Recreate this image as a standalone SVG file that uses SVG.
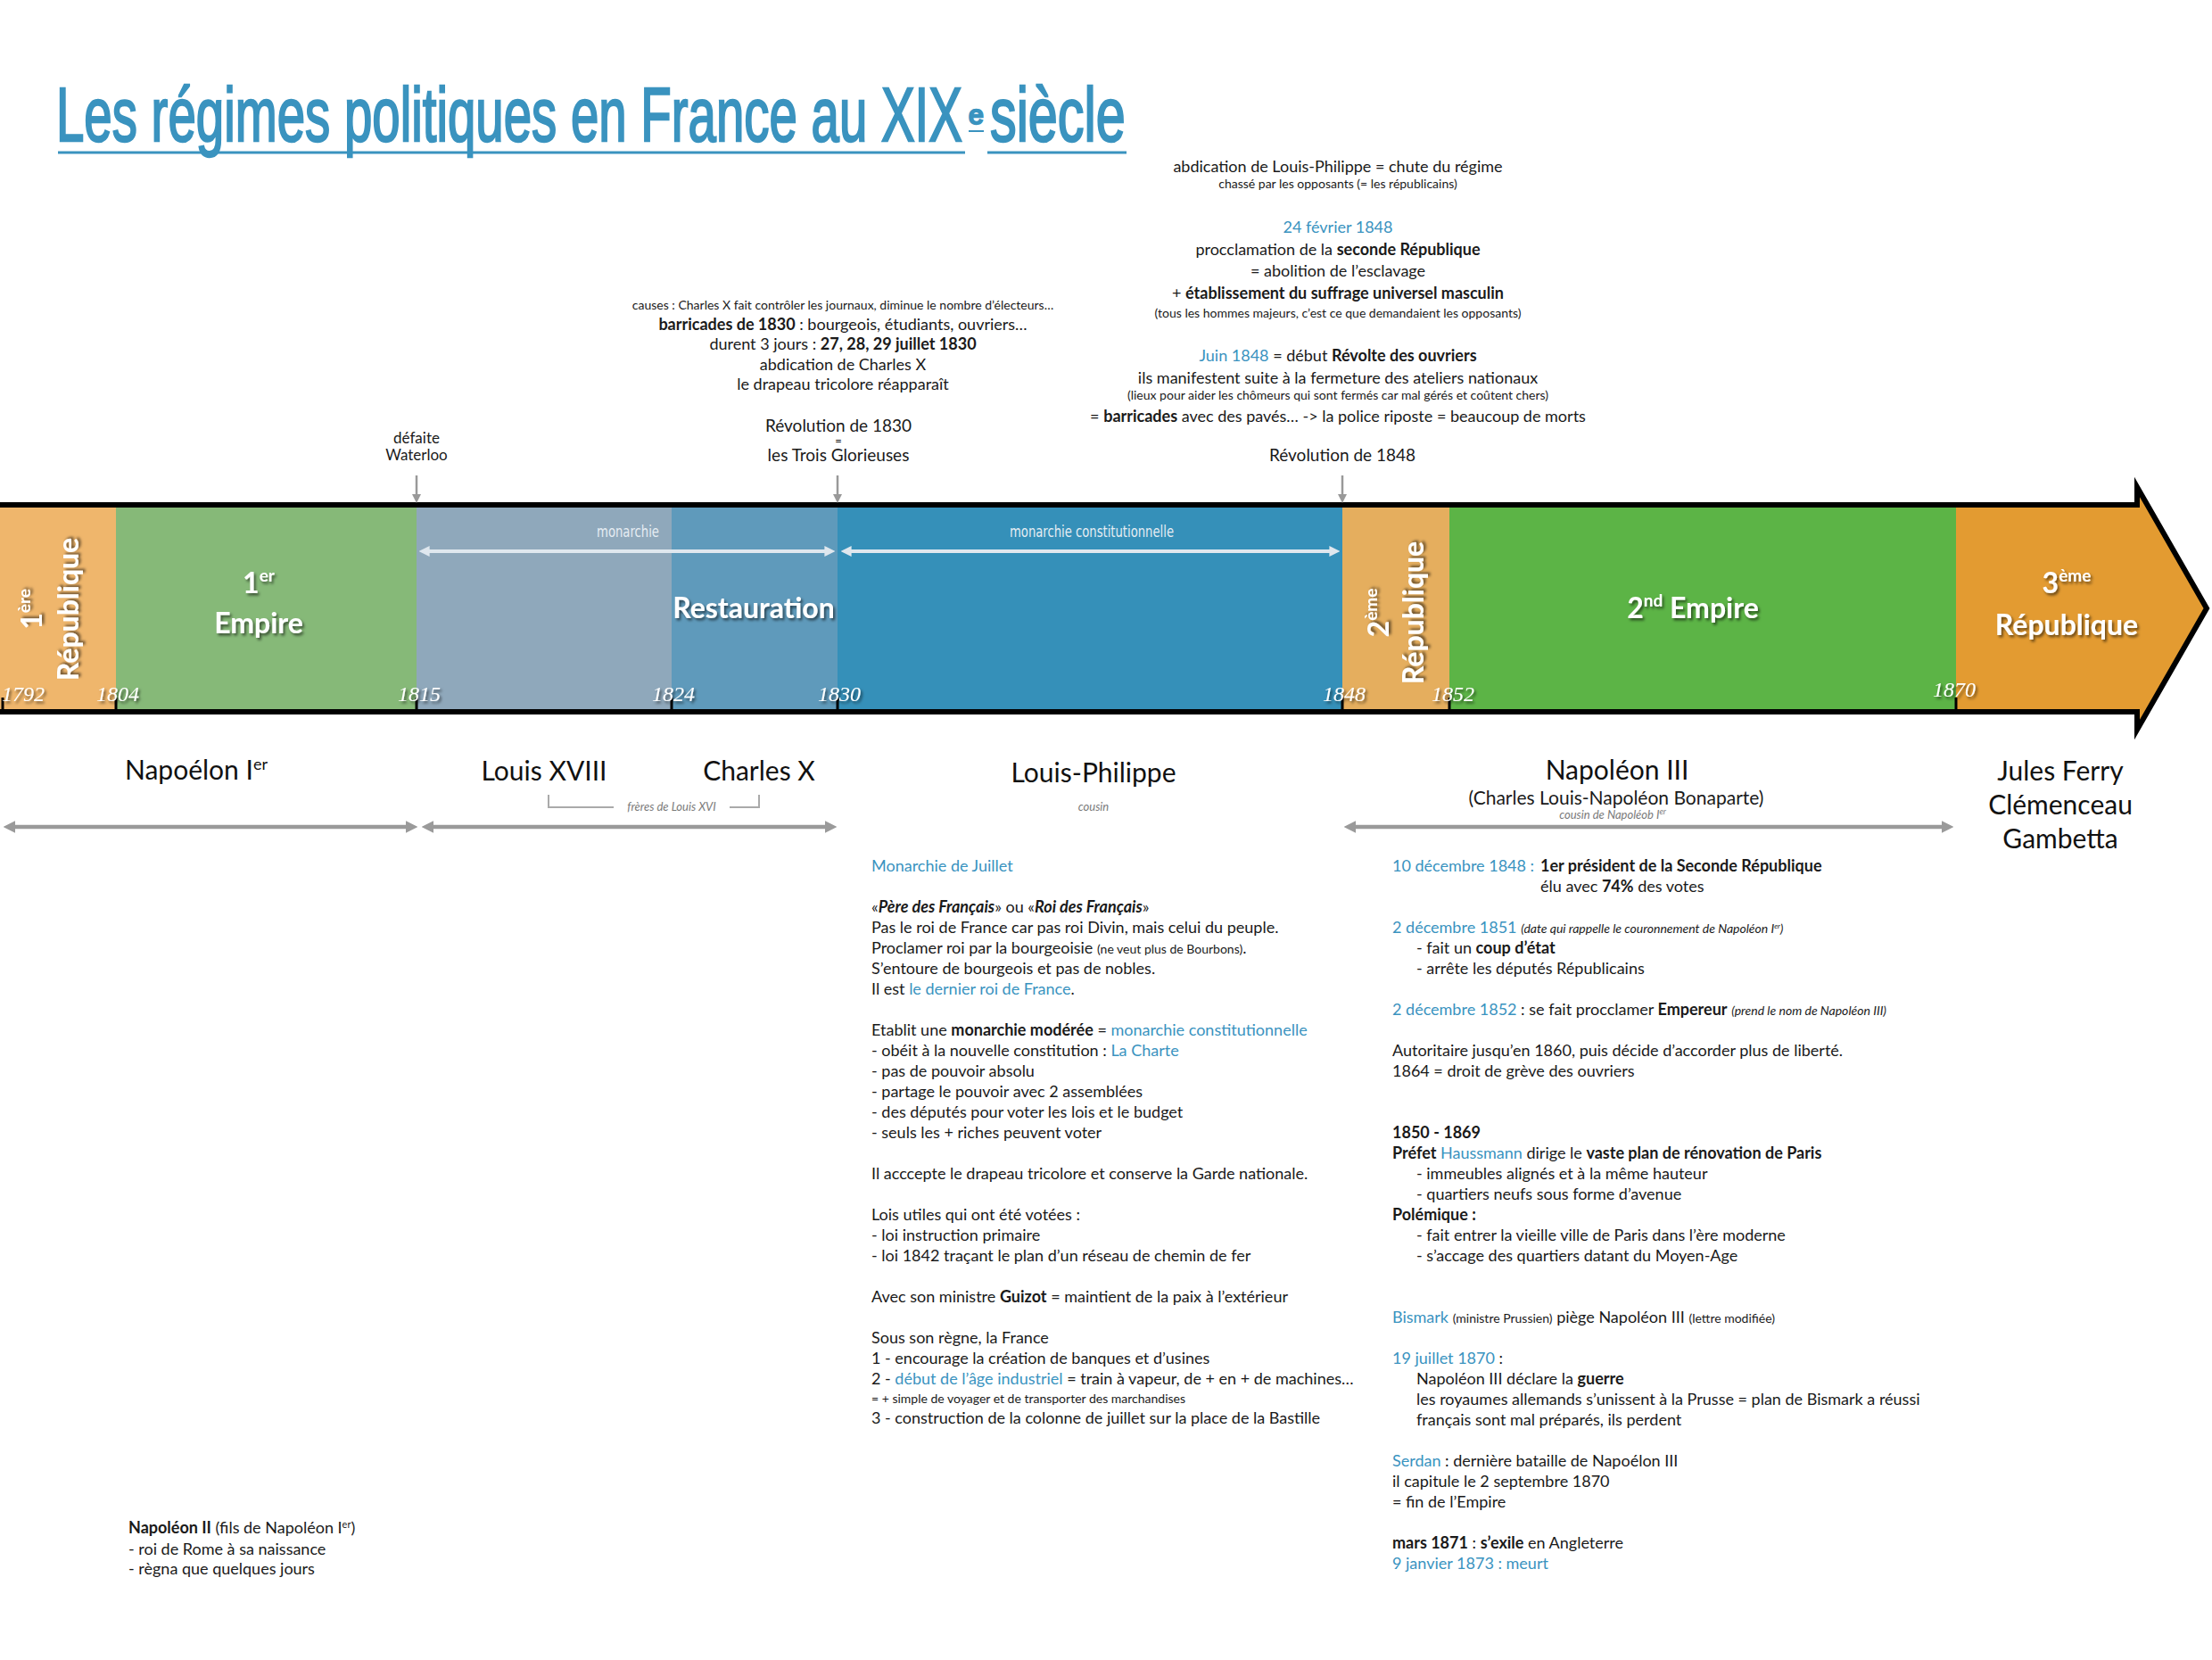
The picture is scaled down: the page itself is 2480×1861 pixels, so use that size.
<svg xmlns="http://www.w3.org/2000/svg" width="2480" height="1861" viewBox="0 0 2480 1861">
<defs>
<style>
.t{font-family:Lato,"Open Sans","Liberation Sans",sans-serif;fill:#1a1a1a}
.b{font-weight:700}
.i{font-style:italic}
.bl{fill:#3a93bf}
.g{fill:#7a7a7a}
.s13{font-size:14px}
.s17{font-size:18px}
.ttl{font-family:"Liberation Sans",Arial,sans-serif;fill:#3a93bf;stroke:#3a93bf;stroke-width:2.4}
.band{font-family:Lato,"Open Sans","Liberation Sans",sans-serif;font-weight:700;fill:#fff;filter:url(#sh)}
.yr{font-family:"Liberation Serif",serif;font-style:italic;font-size:24px;fill:#fff;filter:url(#sh)}
.cond{font-family:"Liberation Sans Narrow","DejaVu Sans Condensed","Liberation Sans",sans-serif;font-size:17px;fill:#e6edf3}
.name{font-family:Lato,"Open Sans","Liberation Sans",sans-serif;font-size:30px;fill:#111;text-anchor:middle}
.ga{fill:none;stroke:#9a9a9a;stroke-width:4.5}
.wa{fill:none;stroke:#dfe7ee;stroke-width:4}
.da{fill:none;stroke:#999;stroke-width:2.5}
</style>
<filter id="sh" x="-20%" y="-20%" width="140%" height="140%">
<feDropShadow dx="2" dy="2.5" stdDeviation="1.5" flood-color="#000" flood-opacity="0.55"/>
</filter>
<marker id="mg" viewBox="0 0 10 10" refX="3" refY="5" markerWidth="3" markerHeight="3" orient="auto-start-reverse"><path d="M0,0 L10,5 L0,10 z" fill="#9a9a9a"/></marker>
<marker id="mw" viewBox="0 0 10 10" refX="3" refY="5" markerWidth="3" markerHeight="3.4" orient="auto-start-reverse"><path d="M0,0 L10,5 L0,10 z" fill="#dfe7ee"/></marker>
<marker id="md" viewBox="0 0 10 10" refX="3" refY="5" markerWidth="4" markerHeight="4" orient="auto-start-reverse"><path d="M0,0 L10,5 L0,10 z" fill="#999"/></marker>
</defs>
<rect width="2480" height="1861" fill="#fff"/>

<g id="title">
<text class="ttl" font-size="86" transform="translate(63,158) scale(0.656,1)" x="0" y="0">Les régimes politiques en France au XIX</text>
<text class="ttl" font-size="30" stroke-width="0.5" x="1086" y="139">e</text>
<text class="ttl" font-size="86" transform="translate(1110,158) scale(0.69,1)" x="0" y="0">siècle</text>
<line x1="65" y1="171" x2="1082" y2="171" stroke="#3a93bf" stroke-width="3"/>
<line x1="1086" y1="147" x2="1103" y2="147" stroke="#3a93bf" stroke-width="2"/>
<line x1="1107" y1="171" x2="1263" y2="171" stroke="#3a93bf" stroke-width="3"/>
</g>

<g id="timeline">
<rect x="0" y="566" width="130" height="232" fill="#efb66c"/>
<rect x="130" y="566" width="337" height="232" fill="#86b978"/>
<rect x="467" y="566" width="286" height="232" fill="#8fa8bb"/>
<rect x="753" y="566" width="186" height="232" fill="#5f9abb"/>
<rect x="939" y="566" width="566" height="232" fill="#3590b9"/>
<rect x="1505" y="566" width="120" height="232" fill="#e5ae5e"/>
<rect x="1625" y="566" width="568" height="232" fill="#5cb446"/>
<polygon points="2193,566 2396,566 2396,546 2474,682 2396,818 2396,798 2193,798" fill="#e39b31"/>
<path d="M0,566 H2396 V546 L2474,682 L2396,818 V798 H0" fill="none" stroke="#000" stroke-width="6" stroke-linejoin="miter"/>
<g stroke="#000" stroke-width="3">
<line x1="3" y1="782" x2="3" y2="798"/><line x1="130" y1="782" x2="130" y2="798"/><line x1="467" y1="782" x2="467" y2="798"/><line x1="753" y1="782" x2="753" y2="798"/><line x1="939" y1="782" x2="939" y2="798"/><line x1="1505" y1="782" x2="1505" y2="798"/><line x1="1625" y1="782" x2="1625" y2="798"/><line x1="2193" y1="782" x2="2193" y2="798"/>
</g>
</g>

<g id="seg-rep1">
<text class="band" font-size="32" text-anchor="middle" transform="translate(47,683) rotate(-90)">1<tspan font-size="19" dy="-13">ère</tspan></text>
<text class="band" font-size="32" text-anchor="middle" transform="translate(88,683) rotate(-90)">République</text>
<text class="yr" x="2" y="786">1792</text>
</g>
<g id="seg-empire1">
<text class="band" font-size="32" text-anchor="middle" x="290" y="665">1<tspan font-size="19" dy="-13">er</tspan></text>
<text class="band" font-size="32" text-anchor="middle" x="290" y="710">Empire</text>
<text class="yr" x="108" y="786">1804</text>
</g>
<g id="seg-restauration">
<text class="band" font-size="32" text-anchor="middle" x="845" y="693">Restauration</text>
<text class="cond" x="669" y="602" textLength="70" lengthAdjust="spacingAndGlyphs">monarchie</text>
<text class="yr" x="446" y="786">1815</text>
<text class="yr" x="731" y="786">1824</text>
</g>
<g id="seg-juillet">
<text class="cond" x="1132" y="602" textLength="184" lengthAdjust="spacingAndGlyphs">monarchie constitutionnelle</text>
<text class="yr" x="917" y="786">1830</text>
</g>
<g id="seg-rep2">
<text class="band" font-size="32" text-anchor="middle" transform="translate(1557,687) rotate(-90)">2<tspan font-size="19" dy="-13">ème</tspan></text>
<text class="band" font-size="32" text-anchor="middle" transform="translate(1596,687) rotate(-90)">République</text>
<text class="yr" x="1483" y="786">1848</text>
</g>
<g id="seg-empire2">
<text class="band" font-size="32" text-anchor="middle" x="1898" y="693">2<tspan font-size="19" dy="-13">nd</tspan><tspan dy="13"> Empire</tspan></text>
<text class="yr" x="1605" y="786">1852</text>
</g>
<g id="seg-rep3">
<text class="band" font-size="32" text-anchor="middle" x="2317" y="665">3<tspan font-size="19" dy="-13">ème</tspan></text>
<text class="band" font-size="32" text-anchor="middle" x="2317" y="712">République</text>
<text class="yr" x="2167" y="781">1870</text>
</g>

<g id="connectors">
<line class="da" x1="467" y1="533" x2="467" y2="557" marker-end="url(#md)"/>
<line class="da" x1="939" y1="533" x2="939" y2="557" marker-end="url(#md)"/>
<line class="da" x1="1505" y1="533" x2="1505" y2="557" marker-end="url(#md)"/>
<line class="wa" x1="478" y1="618" x2="928" y2="618" marker-start="url(#mw)" marker-end="url(#mw)"/>
<line class="wa" x1="951" y1="618" x2="1494" y2="618" marker-start="url(#mw)" marker-end="url(#mw)"/>
<line class="ga" x1="13" y1="927" x2="459" y2="927" marker-start="url(#mg)" marker-end="url(#mg)"/>
<line class="ga" x1="482" y1="927" x2="929" y2="927" marker-start="url(#mg)" marker-end="url(#mg)"/>
<line class="ga" x1="1516" y1="927" x2="2181" y2="927" marker-start="url(#mg)" marker-end="url(#mg)"/>
<path d="M615,891 V905 H688 M818,905 H851 V891" fill="none" stroke="#aaa" stroke-width="2"/>
</g>

<g id="waterloo">
<text class="t" font-size="17" text-anchor="middle"><tspan x="467" y="497">défaite</tspan><tspan x="467" y="516">Waterloo</tspan></text>
</g>

<g id="rev1830">
<text class="t s13" text-anchor="middle" x="945" y="347">causes : Charles X fait contrôler les journaux, diminue le nombre d’électeurs…</text>
<text class="t s17" text-anchor="middle" x="945" y="370"><tspan class="b">barricades de 1830</tspan> : bourgeois, étudiants, ouvriers…</text>
<text class="t s17" text-anchor="middle" x="945" y="392">durent 3 jours : <tspan class="b">27, 28, 29 juillet 1830</tspan></text>
<text class="t s17" text-anchor="middle" x="945" y="415">abdication de Charles X</text>
<text class="t s17" text-anchor="middle" x="945" y="437">le drapeau tricolore réapparaît</text>
<text class="t" font-size="19" text-anchor="middle" x="940" y="484">Révolution de 1830</text>
<text class="t" font-size="13" text-anchor="middle" x="940" y="499">=</text>
<text class="t" font-size="19" text-anchor="middle" x="940" y="517">les Trois Glorieuses</text>
</g>

<g id="rev1848">
<text class="t s17" text-anchor="middle" x="1500" y="193">abdication de Louis-Philippe = chute du régime</text>
<text class="t s13" text-anchor="middle" x="1500" y="211">chassé par les opposants  (= les républicains)</text>
<text class="t s17 bl" text-anchor="middle" x="1500" y="261">24 février 1848</text>
<text class="t s17" text-anchor="middle" x="1500" y="286">procclamation de la <tspan class="b">seconde République</tspan></text>
<text class="t s17" text-anchor="middle" x="1500" y="310">= abolition de l’esclavage</text>
<text class="t s17" text-anchor="middle" x="1500" y="335">+ <tspan class="b">établissement du suffrage universel masculin</tspan></text>
<text class="t s13" text-anchor="middle" x="1500" y="356">(tous les hommes majeurs, c’est ce que demandaient les opposants)</text>
<text class="t s17" text-anchor="middle" x="1500" y="405"><tspan class="bl">Juin 1848</tspan> = début <tspan class="b">Révolte des ouvriers</tspan></text>
<text class="t s17" text-anchor="middle" x="1500" y="430">ils manifestent suite à la fermeture des ateliers nationaux</text>
<text class="t s13" text-anchor="middle" x="1500" y="448">(lieux pour aider les chômeurs qui sont fermés car mal gérés et coûtent chers)</text>
<text class="t s17" text-anchor="middle" x="1500" y="473">= <tspan class="b">barricades</tspan> avec des pavés… -&gt; la police riposte = beaucoup de morts</text>
<text class="t" font-size="19" text-anchor="middle" x="1505" y="517">Révolution de 1848</text>
</g>

<g id="names">
<text class="name" x="220" y="874">Napoélon I<tspan font-size="18" dy="-11">er</tspan></text>
<text class="name" x="610" y="875">Louis XVIII</text>
<text class="name" x="851" y="875">Charles X</text>
<text class="t i g" font-size="13" text-anchor="middle" x="753" y="909">frères de Louis XVI</text>
<text class="name" x="1226" y="877">Louis-Philippe</text>
<text class="t i g" font-size="13" text-anchor="middle" x="1226" y="909">cousin</text>
<text class="name" x="1813" y="874">Napoléon III</text>
<text class="t" font-size="21" text-anchor="middle" x="1812" y="902">(Charles Louis-Napoléon Bonaparte)</text>
<text class="t i g" font-size="13" text-anchor="middle" x="1808" y="918">cousin de Napoléob I<tspan font-size="9" dy="-5">er</tspan></text>
<text class="name" x="2310" y="875">Jules Ferry</text>
<text class="name" x="2310" y="913">Clémenceau</text>
<text class="name" x="2310" y="951">Gambetta</text>
</g>

<g id="louis-philippe-text">
<text class="t s17">
<tspan x="977" y="977" class="bl">Monarchie de Juillet</tspan>
<tspan x="977" y="1023">«<tspan class="b i">Père des Français</tspan>» ou «<tspan class="b i">Roi des Français</tspan>»</tspan>
<tspan x="977" y="1046">Pas le roi de France car pas roi Divin, mais celui du peuple.</tspan>
<tspan x="977" y="1069">Proclamer roi par la bourgeoisie <tspan class="s13">(ne veut plus de Bourbons)</tspan>.</tspan>
<tspan x="977" y="1092">S’entoure de bourgeois et pas de nobles.</tspan>
<tspan x="977" y="1115">Il est <tspan class="bl">le dernier roi de France</tspan>.</tspan>
<tspan x="977" y="1161">Etablit une <tspan class="b">monarchie modérée</tspan> = <tspan class="bl">monarchie constitutionnelle</tspan></tspan>
<tspan x="977" y="1184">- obéit à la nouvelle constitution : <tspan class="bl">La Charte</tspan></tspan>
<tspan x="977" y="1207">- pas de pouvoir absolu</tspan>
<tspan x="977" y="1230">- partage le pouvoir avec 2 assemblées</tspan>
<tspan x="977" y="1253">- des députés pour voter les lois et le budget</tspan>
<tspan x="977" y="1276">- seuls les + riches peuvent voter</tspan>
<tspan x="977" y="1322">Il acccepte le drapeau tricolore et conserve la Garde nationale.</tspan>
<tspan x="977" y="1368">Lois utiles qui ont été votées :</tspan>
<tspan x="977" y="1391">- loi instruction primaire</tspan>
<tspan x="977" y="1414">- loi 1842 traçant le plan d’un réseau de chemin de fer</tspan>
<tspan x="977" y="1460">Avec son ministre <tspan class="b">Guizot</tspan> = maintient de la paix à l’extérieur</tspan>
<tspan x="977" y="1506">Sous son règne, la France</tspan>
<tspan x="977" y="1529">1 - encourage la création de banques et d’usines</tspan>
<tspan x="977" y="1552">2 - <tspan class="bl">début de l’âge industriel</tspan> = train à vapeur, de + en + de machines…</tspan>
<tspan x="977" y="1573" class="s13">= + simple de voyager et de transporter des marchandises</tspan>
<tspan x="977" y="1596">3 - construction de la colonne de juillet sur la place de la Bastille</tspan>
</text>
</g>

<g id="napoleon3-text">
<text class="t s17">
<tspan x="1561" y="977" class="bl">10 décembre 1848 :</tspan><tspan x="1727" y="977" class="b">1er président de la Seconde République</tspan>
<tspan x="1727" y="1000">élu avec <tspan class="b">74%</tspan> des votes</tspan>
<tspan x="1561" y="1046"><tspan class="bl">2 décembre 1851</tspan> <tspan class="s13 i">(date qui rappelle le couronnement de Napoléon I</tspan><tspan font-size="8" class="i" dy="-5">er</tspan><tspan class="s13 i" dy="5">)</tspan></tspan>
<tspan x="1588" y="1069">- fait un <tspan class="b">coup d’état</tspan></tspan>
<tspan x="1588" y="1092">- arrête les députés Républicains</tspan>
<tspan x="1561" y="1138"><tspan class="bl">2 décembre 1852</tspan> : se fait procclamer <tspan class="b">Empereur</tspan> <tspan class="s13 i">(prend le nom de Napoléon III)</tspan></tspan>
<tspan x="1561" y="1184">Autoritaire jusqu’en 1860, puis décide d’accorder plus de liberté.</tspan>
<tspan x="1561" y="1207">1864 = droit de grève des ouvriers</tspan>
<tspan x="1561" y="1276" class="b">1850 - 1869</tspan>
<tspan x="1561" y="1299"><tspan class="b">Préfet</tspan> <tspan class="bl">Haussmann</tspan> dirige le <tspan class="b">vaste plan de rénovation de Paris</tspan></tspan>
<tspan x="1588" y="1322">- immeubles alignés et à la même hauteur</tspan>
<tspan x="1588" y="1345">- quartiers neufs sous forme d’avenue</tspan>
<tspan x="1561" y="1368" class="b">Polémique :</tspan>
<tspan x="1588" y="1391">- fait entrer la vieille ville de Paris dans l’ère moderne</tspan>
<tspan x="1588" y="1414">- s’accage des quartiers datant du Moyen-Age</tspan>
<tspan x="1561" y="1483"><tspan class="bl">Bismark</tspan> <tspan class="s13">(ministre Prussien)</tspan> piège Napoléon III <tspan class="s13">(lettre modifiée)</tspan></tspan>
<tspan x="1561" y="1529"><tspan class="bl">19 juillet 1870</tspan> :</tspan>
<tspan x="1588" y="1552">Napoléon III déclare la <tspan class="b">guerre</tspan></tspan>
<tspan x="1588" y="1575">les royaumes allemands s’unissent à la Prusse = plan de Bismark a réussi</tspan>
<tspan x="1588" y="1598">français sont mal préparés, ils perdent</tspan>
<tspan x="1561" y="1644"><tspan class="bl">Serdan</tspan> : dernière bataille de Napoélon III</tspan>
<tspan x="1561" y="1667">il capitule le 2 septembre 1870</tspan>
<tspan x="1561" y="1690">= fin de l’Empire</tspan>
<tspan x="1561" y="1736"><tspan class="b">mars 1871</tspan> : <tspan class="b">s’exile</tspan> en Angleterre</tspan>
<tspan x="1561" y="1759" class="bl">9 janvier 1873 : meurt</tspan>
</text>
</g>

<g id="napoleon2-text">
<text class="t" font-size="18">
<tspan x="144" y="1719"><tspan class="b">Napoléon II</tspan> (fils de Napoléon I<tspan font-size="11" dy="-6">er</tspan><tspan dy="6">)</tspan></tspan>
<tspan x="144" y="1743"> - roi de Rome à sa naissance</tspan>
<tspan x="144" y="1765"> - règna que quelques jours</tspan>
</text>
</g>
</svg>
